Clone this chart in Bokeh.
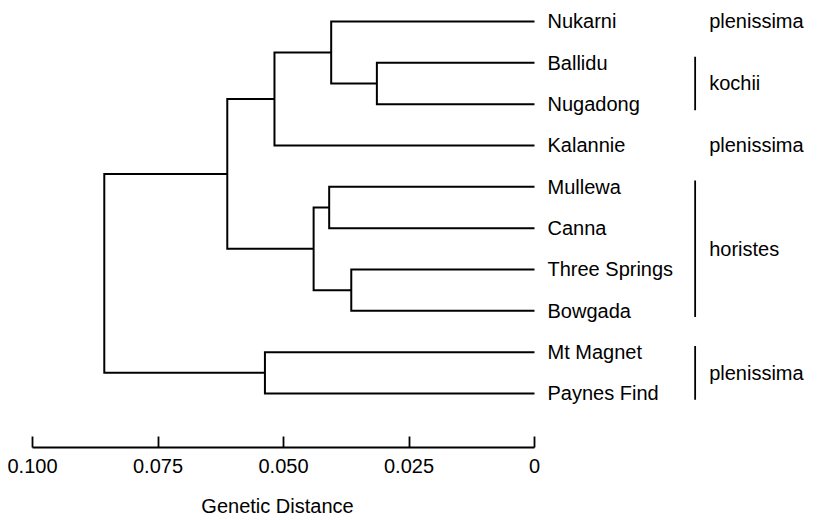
from bokeh.plotting import figure
from bokeh.layouts import column
from bokeh.models import Range1d, FixedTicker, ColumnDataSource
from bokeh.core.properties import value
from bokeh.embed import file_html
from bokeh.resources import INLINE

# ---- data ----
leaves = ["Nukarni", "Ballidu", "Nugadong", "Kalannie", "Mullewa", "Canna",
          "Three Springs", "Bowgada", "Mt Magnet", "Paynes Find"]

# successive merges: child a, child b, genetic distance of the join ("nK" = K-th merge)
merge_a = ["Ballidu", "Nukarni", "n1", "Mullewa", "Three Springs", "n3", "n2", "Mt Magnet", "n6"]
merge_b = ["Nugadong", "n0", "Kalannie", "Canna", "Bowgada", "n4", "n5", "Paynes Find", "n7"]
merge_dist = [0.0314, 0.0405, 0.0518, 0.0409, 0.0365, 0.0440, 0.0612, 0.0537, 0.0857]

group_names = ["plenissima", "kochii", "plenissima", "horistes", "plenissima"]
group_first = ["Nukarni", "Ballidu", "Kalannie", "Mullewa", "Mt Magnet"]
group_last = ["Nukarni", "Nugadong", "Kalannie", "Bowgada", "Paynes Find"]

tick_values = [0.1, 0.075, 0.05, 0.025, 0.0]
tick_labels = ["0.100", "0.075", "0.050", "0.025", "0"]
axis_title = "Genetic Distance"

# ---- layout constants ----
FONT = value("Liberation Sans")
FS = "20px"
BAR_X = -0.032
PAD = 0.15
TITLE_X = 0.0512

# ---- compute dendrogram paths ----
pos = {name: (0.0, float(i)) for i, name in enumerate(leaves)}
xs, ys = [], []
for k, (a, b, d) in enumerate(zip(merge_a, merge_b, merge_dist)):
    xa, ya = pos[a]
    xb, yb = pos[b]
    xs.append([xa, d, d, xb])
    ys.append([ya, ya, yb, yb])
    pos[f"n{k}"] = (d, (ya + yb) / 2.0)

xr = Range1d(0.106375, -0.056574)
p = figure(width=818, height=490, output_backend="svg", toolbar_location=None,
           x_range=xr, y_range=Range1d(10.307, -0.508),
           min_border_left=0, min_border_right=0, min_border_top=0, min_border_bottom=43)

p.multi_line(xs=xs, ys=ys, line_color="black", line_width=2, line_join="miter")

leaf_src = ColumnDataSource(dict(x=[0.0] * len(leaves), y=list(range(len(leaves))), t=leaves))
p.text(x="x", y="y", text="t", source=leaf_src, x_offset=13, text_font=FONT,
       text_font_size=FS, text_baseline="middle", text_align="left", text_color="black")

gy, gx0, gy0, gy1 = [], [], [], []
for name, f, l in zip(group_names, group_first, group_last):
    i0, i1 = leaves.index(f), leaves.index(l)
    gy.append((i0 + i1) / 2.0)
    if i1 > i0:
        gx0.append(BAR_X)
        gy0.append(i0 - PAD)
        gy1.append(i1 + PAD)
p.segment(x0=gx0, y0=gy0, x1=gx0, y1=gy1, line_color="black", line_width=1.8)
grp_src = ColumnDataSource(dict(x=[BAR_X] * len(group_names), y=gy, t=group_names))
p.text(x="x", y="y", text="t", source=grp_src, x_offset=14, text_font=FONT,
       text_font_size=FS, text_baseline="middle", text_align="left", text_color="black")

# axes
p.yaxis.visible = False
p.xgrid.visible = False
p.ygrid.visible = False
p.outline_line_color = None
ax = p.xaxis[0]
ax.ticker = FixedTicker(ticks=tick_values)
ax.major_label_overrides = {v: s for v, s in zip(tick_values, tick_labels)}
ax.bounds = (0.0, 0.1)
ax.minor_tick_line_color = None
ax.major_tick_in = 11
ax.major_tick_out = 0
ax.axis_line_width = 1.8
ax.major_tick_line_width = 1.8
ax.axis_line_color = "black"
ax.major_tick_line_color = "black"
ax.major_label_text_font = "Liberation Sans"
ax.major_label_text_font_size = FS
ax.major_label_text_color = "black"
ax.major_label_standoff = 11

# axis title strip (placed under the axis, centred near the middle of the scale)
p2 = figure(width=818, height=30, output_backend="svg", toolbar_location=None,
            x_range=xr, y_range=Range1d(0, 1),
            min_border_left=0, min_border_right=0, min_border_top=0, min_border_bottom=0)
p2.xaxis.visible = False
p2.yaxis.visible = False
p2.xgrid.visible = False
p2.ygrid.visible = False
p2.outline_line_color = None
p2.text(x=[TITLE_X], y=[0.5], text=[axis_title], text_font=FONT, text_font_size=FS,
        text_align="center", text_baseline="middle", text_color="black")

layout = column(p, p2, spacing=0)
open("out.html", "w").write(file_html(layout, INLINE))
